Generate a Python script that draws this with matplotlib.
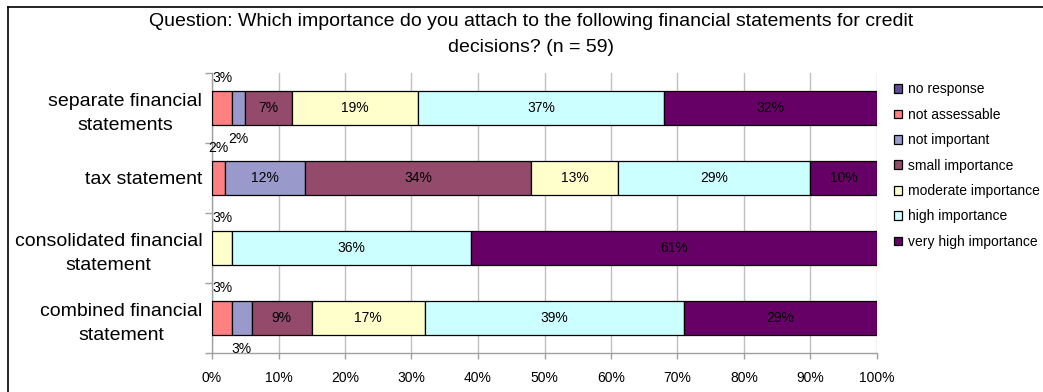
import numpy as np
import matplotlib
matplotlib.use("Agg")
import matplotlib.pyplot as plt
from matplotlib.lines import Line2D

plt.rcParams['font.family'] = ['Liberation Sans', 'DejaVu Sans']

# survey answers in percent (n = 59)
statements = ["separate financial\nstatements", "tax statement",
              "consolidated financial\nstatement", "combined financial\nstatement"]
answers = ["no response", "not assessable", "not important", "small importance",
           "moderate importance", "high importance", "very high importance"]
no_response = [0, 0, 0, 0]
not_assessable = [3, 2, 0, 3]
not_important = [2, 12, 0, 3]
small_importance = [7, 34, 0, 9]
moderate_importance = [19, 13, 3, 17]
high_importance = [37, 29, 36, 39]
very_high_importance = [32, 10, 61, 29]
series = [no_response, not_assessable, not_important, small_importance,
          moderate_importance, high_importance, very_high_importance]
colors = ["#604A9A", "#FF8080", "#9999CC", "#944A6B", "#FFFFCC", "#CCFFFF", "#660066"]

W, H = 1043, 392
fig = plt.figure(figsize=(W / 100, H / 100), dpi=100)
ax = fig.add_axes([212 / W, 1 - 353 / H, 665 / W, 280 / H])

y = np.arange(len(statements))
left = np.zeros(len(statements))
n_small = [0] * len(statements)
for name, vals, col in zip(answers, series, colors):
    vals = np.array(vals, dtype=float)
    ax.barh(y, vals, left=left, height=0.49, color=col, edgecolor="black",
            linewidth=0.9, label=name, zorder=3)
    for i, v in enumerate(vals):
        if v <= 0:
            continue
        cx = left[i] + v / 2
        cy = y[i]
        if v < 5:
            # thin slices: first label above the bar, next one below
            cy += -0.43 if n_small[i] == 0 else 0.44
            n_small[i] += 1
        ax.text(cx, cy, f"{v:.0f}%", ha="center", va="center", fontsize=10, zorder=4)
    left += vals

ax.set_xlim(0, 100)
ax.set_ylim(3.5, -0.5)
ax.set_xticks(np.arange(0, 101, 10))
ax.set_xticklabels([f"{v}%" for v in range(0, 101, 10)], fontsize=10)
ax.set_yticks(y)
ax.set_yticklabels(statements, fontsize=14, multialignment="center", linespacing=1.55)
ax.set_yticks(np.arange(-0.5, 4, 1), minor=True)
ax.tick_params(axis="y", which="major", length=0, pad=7)
ax.tick_params(axis="y", which="minor", length=5, color="#A0A0A0", width=1)
ax.tick_params(axis="x", length=4, color="#A0A0A0", width=1, pad=9)
ax.grid(axis="x", color="#C0C0C0", linewidth=1, zorder=0)
for side in ["top", "right"]:
    ax.spines[side].set_visible(False)
for side in ["left", "bottom"]:
    ax.spines[side].set_color("#A0A0A0")
    ax.spines[side].set_linewidth(1)

ax.legend(loc="upper left", bbox_to_anchor=(881 / W, 1 - 70 / H),
          bbox_transform=fig.transFigure, frameon=False, fontsize=10,
          handlelength=0.6, handleheight=0.6, handletextpad=0.45,
          labelspacing=0.82)

fig.text(531 / W, 1 - 22 / H,
         "Question: Which importance do you attach to the following financial statements for credit",
         ha="center", va="center", fontsize=14)
fig.text(531 / W, 1 - 48 / H, "decisions? (n = 59)",
         ha="center", va="center", fontsize=14)

# chart frame
fig.add_artist(Line2D([8 / W, 8 / W], [0, 1 - 7 / H], color="black", linewidth=1.2,
                      transform=fig.transFigure))
fig.add_artist(Line2D([8 / W, 1], [1 - 7 / H, 1 - 7 / H], color="black", linewidth=1.2,
                      transform=fig.transFigure))

fig.savefig("out.png", dpi=100)
